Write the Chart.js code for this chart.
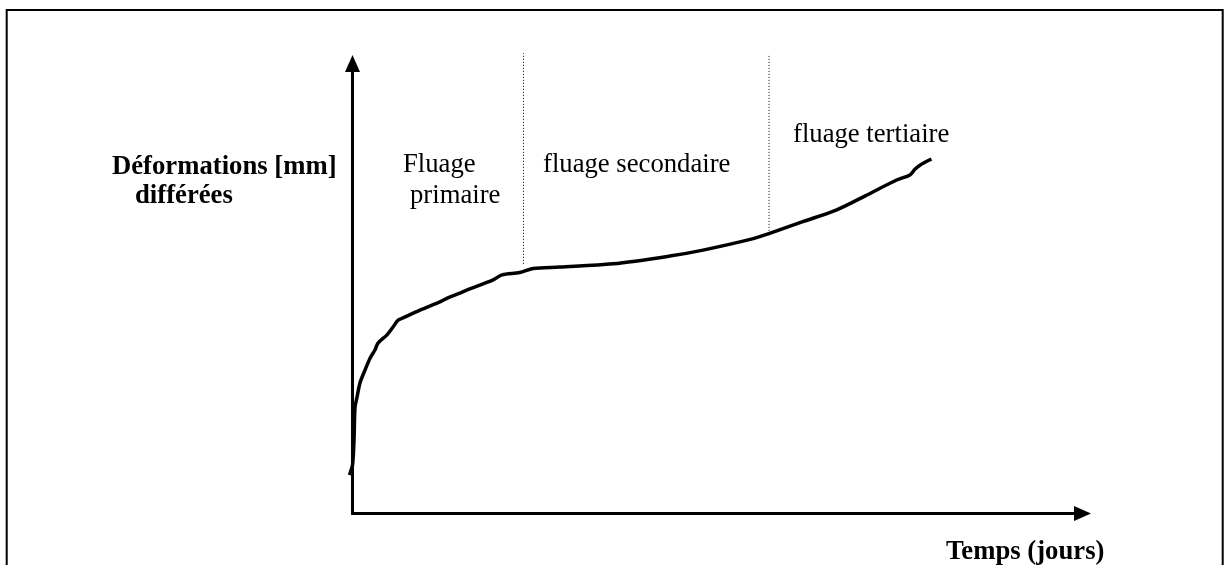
<!DOCTYPE html>
<html>
<head>
<meta charset="utf-8">
<script src="https://cdn.jsdelivr.net/npm/chart.js@4/dist/chart.umd.min.js"></script>
<style>
  html, body { margin: 0; padding: 0; background: #fff; }
  #c { display: block; }
</style>
</head>
<body>
<canvas id="c" width="1227" height="565"></canvas>
<script>
// ---- Data (arbitrary units: time 0..100, deformation 0..100) ----
const timeValues = [-0.34, 0.07, 0.27, 0.41, 0.68, 1.08, 1.76, 2.44, 3.11, 3.52, 4.74, 5.55, 6.22, 6.9, 9.2, 11.9, 12.9, 14.6, 15.6, 19.1, 20.3, 22.7, 24.5, 28.1, 35.3, 43.0, 47.5, 54.3, 56.6, 61.0, 65.6, 69.4, 73.7, 75.5, 76.2, 76.9, 78.4];
const deformationValues = [8.3, 10.5, 15.9, 23.1, 25.3, 28.4, 31.2, 33.8, 35.6, 37.1, 38.9, 40.6, 42.1, 42.6, 44.3, 46.1, 46.9, 48.0, 48.7, 50.9, 52.0, 52.5, 53.4, 53.7, 54.4, 56.1, 57.4, 59.9, 61.1, 63.6, 66.2, 69.2, 72.7, 73.8, 75.1, 76.0, 77.3];

// Phase boundaries (time) and the vertical extent of the dotted separators
const boundaryTimes = [23.21, 56.43];
const boundaryBottoms = [54.4, 61.6];
const boundaryTops = [100.4, 99.8];

const axisTitleY = ["Déformations [mm]", "différées"];
const axisTitleX = "Temps (jours)";
const phaseLabels = [["Fluage", "primaire"], ["fluage secondaire"], ["fluage tertiaire"]];

const curve = timeValues.map((t, i) => ({ x: t, y: deformationValues[i] }));
const separators = boundaryTimes.map((t, i) => ({
  type: 'line',
  data: [{ x: t, y: boundaryBottoms[i] }, { x: t, y: boundaryTops[i] }],
  borderColor: '#000',
  borderWidth: 1,
  borderDash: [1, 2],
  pointRadius: 0,
  clip: false
}));

const FONT = '"Liberation Serif", "Times New Roman", serif';

const decor = {
  id: 'decor',
  beforeDraw(chart) {
    const ctx = chart.ctx;
    ctx.save();
    ctx.fillStyle = '#fff';
    ctx.fillRect(0, 0, chart.width, chart.height);
    // frame
    ctx.strokeStyle = '#000';
    ctx.lineWidth = 2;
    ctx.beginPath();
    ctx.moveTo(6.7, 570);
    ctx.lineTo(6.7, 10);
    ctx.lineTo(1222.7, 10);
    ctx.lineTo(1222.7, 570);
    ctx.stroke();
    ctx.restore();
  },
  afterDraw(chart) {
    const ctx = chart.ctx;
    const xs = chart.scales.x, ys = chart.scales.y;
    const x0 = Math.round(xs.getPixelForValue(0)) + 0.5;
    const y0 = Math.round(ys.getPixelForValue(0)) + 0.5;
    const xTip = xs.getPixelForValue(100);
    const yTip = ys.getPixelForValue(100);
    ctx.save();
    ctx.strokeStyle = '#000';
    ctx.fillStyle = '#000';
    ctx.lineWidth = 3;
    ctx.lineCap = 'butt';
    // y axis
    ctx.beginPath();
    ctx.moveTo(x0, y0 + 1.5);
    ctx.lineTo(x0, yTip + 16);
    ctx.stroke();
    ctx.beginPath();
    ctx.moveTo(x0, yTip);
    ctx.lineTo(x0 - 7.5, yTip + 17);
    ctx.lineTo(x0 + 7.5, yTip + 17);
    ctx.closePath();
    ctx.fill();
    // x axis
    ctx.beginPath();
    ctx.moveTo(x0 - 1.5, y0);
    ctx.lineTo(xTip - 16, y0);
    ctx.stroke();
    ctx.beginPath();
    ctx.moveTo(xTip, y0);
    ctx.lineTo(xTip - 17, y0 - 7.5);
    ctx.lineTo(xTip - 17, y0 + 7.5);
    ctx.closePath();
    ctx.fill();

    // texts
    ctx.textBaseline = 'alphabetic';
    ctx.textAlign = 'left';
    ctx.font = 'bold 26.7px ' + FONT;
    ctx.fillText(axisTitleY[0], 112, 174);
    ctx.fillText(axisTitleY[1], 135, 203);
    ctx.fillText(axisTitleX, 946, 559);
    ctx.font = '26.7px ' + FONT;
    ctx.fillText(phaseLabels[0][0], 403, 172);
    ctx.fillText(phaseLabels[0][1], 410, 203);
    ctx.fillText(phaseLabels[1][0], 543, 172);
    ctx.fillText(phaseLabels[2][0], 793, 142);
    ctx.restore();
  }
};

new Chart(document.getElementById('c'), {
  type: 'line',
  data: {
    datasets: [
      {
        data: curve,
        borderColor: '#000',
        borderWidth: 3.5,
        pointRadius: 0,
        tension: 0.3,
        clip: false
      },
      ...separators
    ]
  },
  options: {
    responsive: false,
    animation: false,
    devicePixelRatio: 1,
    layout: { padding: { left: 352, right: 136, top: 55, bottom: 52 } },
    plugins: { legend: { display: false }, tooltip: { enabled: false }, title: { display: false } },
    scales: {
      x: { type: 'linear', min: 0, max: 100, display: false },
      y: { type: 'linear', min: 0, max: 100, display: false }
    }
  },
  plugins: [decor]
});
</script>
</body>
</html>
